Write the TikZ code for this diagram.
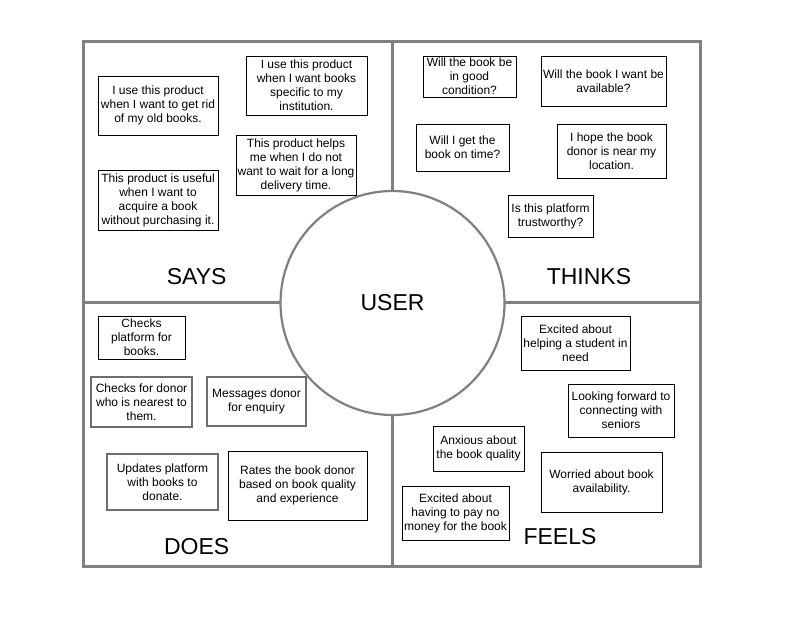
\documentclass[tikz,border=0pt]{standalone}
\usepackage{fontspec}
\setmainfont{Liberation Sans}
\begin{document}
\begin{tikzpicture}[x=1pt,y=-1pt,
  frame/.style={draw=framegray,line width=3pt},
  card/.style={draw=black,line width=1pt,fill=white,inner sep=0pt,align=center,
    font=\fontsize{12}{14}\selectfont},
  graycard/.style={card,draw=cardgray,line width=1.6pt},
  quad/.style={font=\fontsize{23}{27}\selectfont,inner sep=0pt},
  usercircle/.style={circle,draw=framegray,line width=2.2pt,fill=white,minimum size=224pt,inner sep=0pt,
    font=\fontsize{23}{27}\selectfont}]
\definecolor{framegray}{HTML}{808080}
\definecolor{cardgray}{HTML}{6E6E6E}
\useasboundingbox (0,0) rectangle (794,640);
\fill[white] (0,0) rectangle (794,640);
% frame
\coordinate (tl) at (83,41);
\coordinate (br) at (700,566);
\coordinate (vt) at (392,41);
\coordinate (vb) at (392,566);
\coordinate (hl) at (83,302);
\coordinate (hr) at (700,302);
\draw[frame] (tl) rectangle (br);
\draw[frame] (vt) -- (vb);
\draw[frame] (hl) -- (hr);
\node[usercircle] (user) at (392.5,303) {USER};
% quadrant labels
\node[quad] (says) at (196.7,277) {SAYS};
\node[quad] (thinks) at (589,277) {THINKS};
\node[quad] (does) at (196.7,547) {DOES};
\node[quad] (feels) at (560,537) {FEELS};
% SAYS
\node[card,minimum width=120pt,minimum height=59pt] (s1) at (158,105.5) {I use this product\\when I want to get rid\\of my old books.};
\node[card,minimum width=121pt,minimum height=59pt] (s2) at (306.5,85.5) {I use this product\\when I want books\\specific to my\\institution.};
\node[card,minimum width=120pt,minimum height=60pt] (s3) at (296,165) {This product helps\\me when I do not\\want to wait for a long\\delivery time.};
\node[card,minimum width=120pt,minimum height=60pt] (s4) at (158,200) {This product is useful\\when I want to\\acquire a book\\without purchasing it.};
% THINKS
\node[card,minimum width=93pt,minimum height=41pt] (t1) at (469.5,76.5) {Will the book be\\in good\\condition?};
\node[card,minimum width=125pt,minimum height=50pt] (t2) at (603.5,81) {Will the book I want be\\available?};
\node[card,minimum width=93pt,minimum height=47pt] (t3) at (462.5,147.5) {Will I get the\\book on time?};
\node[card,minimum width=109pt,minimum height=54pt] (t4) at (611.5,151) {I hope the book\\donor is near my\\location.};
\node[card,minimum width=85pt,minimum height=42pt] (t5) at (550.5,216) {Is this platform\\trustworthy?};
% DOES
\node[card,minimum width=87pt,minimum height=43pt] (d1) at (141.5,337.5) {Checks\\platform for\\books.};
\node[graycard,minimum width=101pt,minimum height=50pt] (d2) at (141.5,402) {Checks for donor\\who is nearest to\\them.};
\node[graycard,minimum width=99pt,minimum height=49pt] (d3) at (256.5,401.5) {Messages donor\\for enquiry};
\node[graycard,minimum width=111pt,minimum height=56pt] (d4) at (162.5,482) {Updates platform\\with books to\\donate.};
\node[card,minimum width=139pt,minimum height=69pt] (d5) at (297.5,485.5) {Rates the book donor\\based on book quality\\and experience};
% FEELS
\node[card,minimum width=109pt,minimum height=54pt] (f1) at (575.5,343) {Excited about\\helping a student in\\need};
\node[card,minimum width=106pt,minimum height=53pt] (f2) at (621,410.5) {Looking forward to\\connecting with\\seniors};
\node[card,minimum width=91pt,minimum height=45pt] (f3) at (478.5,448.5) {Anxious about\\the book quality};
\node[card,minimum width=121pt,minimum height=60pt] (f4) at (601.5,482) {Worried about book\\availability.};
\node[card,minimum width=107pt,minimum height=54pt] (f5) at (455.5,513) {Excited about\\having to pay no\\money for the book};
\end{tikzpicture}
\end{document}
